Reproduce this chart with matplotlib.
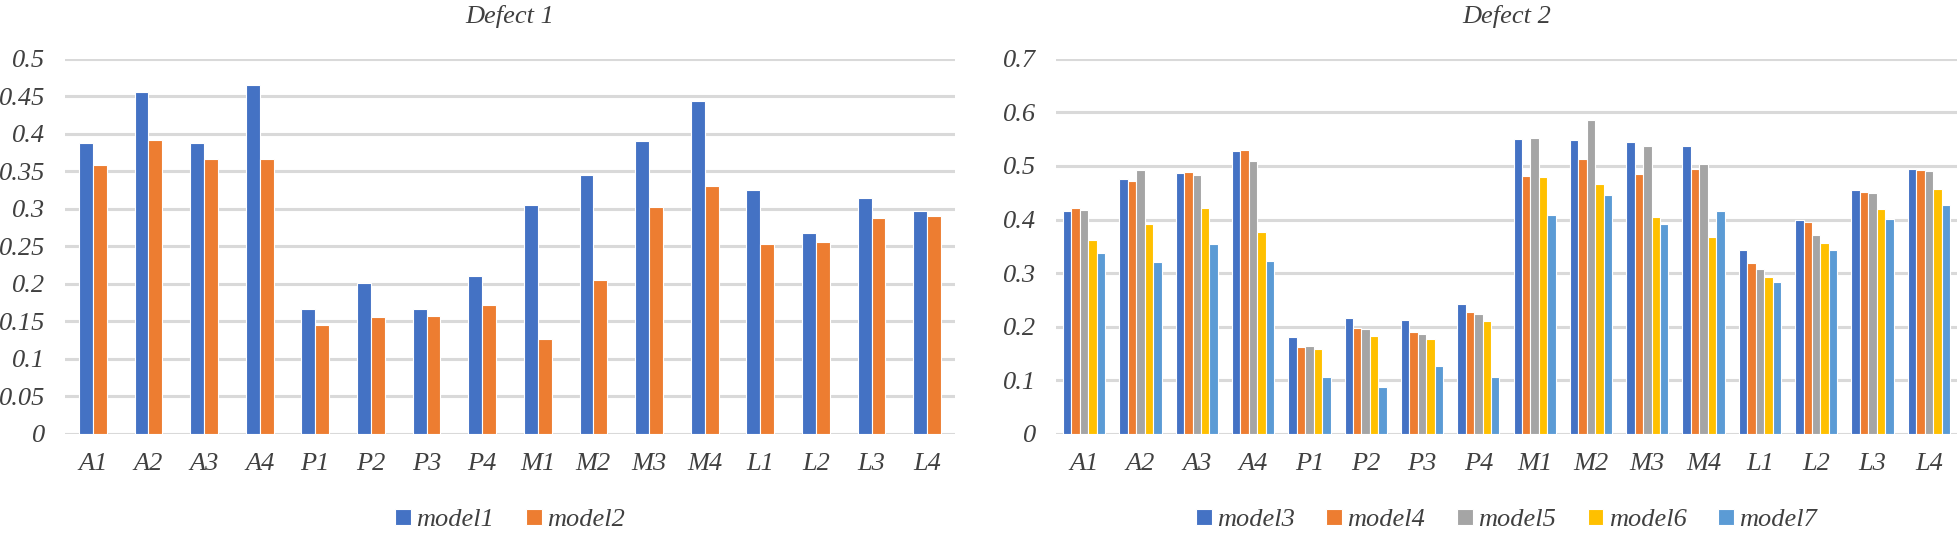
import matplotlib.pyplot as plt
import numpy as np

# categories shared by both panels
cats = ['A1', 'A2', 'A3', 'A4', 'P1', 'P2', 'P3', 'P4',
        'M1', 'M2', 'M3', 'M4', 'L1', 'L2', 'L3', 'L4']

# Defect 1
model1 = [0.388, 0.455, 0.388, 0.465, 0.167, 0.201, 0.167, 0.211,
          0.305, 0.345, 0.391, 0.443, 0.325, 0.268, 0.314, 0.297]
model2 = [0.358, 0.392, 0.366, 0.366, 0.145, 0.156, 0.157, 0.172,
          0.126, 0.205, 0.302, 0.331, 0.253, 0.256, 0.288, 0.290]

# Defect 2
model3 = [0.416, 0.475, 0.487, 0.528, 0.181, 0.217, 0.212, 0.243,
          0.551, 0.548, 0.544, 0.538, 0.344, 0.400, 0.455, 0.495]
model4 = [0.421, 0.471, 0.488, 0.530, 0.163, 0.197, 0.190, 0.227,
          0.482, 0.513, 0.485, 0.494, 0.319, 0.396, 0.452, 0.493]
model5 = [0.418, 0.492, 0.484, 0.510, 0.165, 0.196, 0.186, 0.224,
          0.552, 0.585, 0.537, 0.503, 0.307, 0.372, 0.450, 0.490]
model6 = [0.361, 0.391, 0.422, 0.377, 0.158, 0.182, 0.177, 0.211,
          0.479, 0.466, 0.405, 0.367, 0.292, 0.356, 0.420, 0.457]
model7 = [0.337, 0.320, 0.355, 0.322, 0.107, 0.088, 0.127, 0.106,
          0.408, 0.446, 0.392, 0.416, 0.284, 0.344, 0.401, 0.428]

colors = ['#4472C4', '#ED7D31', '#A5A5A5', '#FFC000', '#5B9BD5']

plt.rcParams['font.family'] = 'Liberation Serif'
plt.rcParams['font.style'] = 'italic'
FS = 19

fig = plt.figure(figsize=(19.58, 5.46), dpi=100)
W, H = 1958, 546
ax1 = fig.add_axes([65 / W, 1 - 434 / H, 890 / W, (434 - 58.7) / H])
ax2 = fig.add_axes([1056 / W, 1 - 434 / H, 901 / W, (434 - 58.7) / H])


def style(ax, ymax, step, fmt):
    for s in ax.spines.values():
        s.set_visible(False)
    ax.set_ylim(0, ymax)
    ax.set_xlim(-0.5, len(cats) - 0.5)
    ticks = np.arange(0, ymax + 1e-9, step)
    ax.set_yticks(ticks)
    ax.set_yticklabels([fmt(t) for t in ticks])
    ax.set_xticks(range(len(cats)))
    ax.set_xticklabels(cats)
    ax.tick_params(length=0, labelsize=FS, colors='#404040')
    ax.tick_params(axis='x', pad=14)
    ax.tick_params(axis='y', pad=14)
    ax.grid(axis='y', color='#D9D9D9', linewidth=2.2)
    ax.set_axisbelow(True)


def lab(t):
    s = ('%.2f' % t).rstrip('0').rstrip('.')
    return s if s else '0'


x = np.arange(len(cats))
leg_y = -(520 - 434) / (434 - 58.7)

# left panel
w = 0.25
for i, (vals, name) in enumerate([(model1, 'model1'), (model2, 'model2')]):
    ax1.bar(x + (i - 0.5) * w, vals, w, color=colors[i], edgecolor='white',
            linewidth=0.8, label=name)
style(ax1, 0.5, 0.05, lab)
ax1.set_title('Defect 1', fontsize=FS, color='#404040', pad=26)
ax1.legend(loc='center', bbox_to_anchor=(0.5, leg_y), ncol=2,
           frameon=False, fontsize=FS, handlelength=0.6, handleheight=0.6,
           handletextpad=0.2, columnspacing=1.2, labelcolor='#404040',
           borderpad=0)

# right panel
series2 = [model3, model4, model5, model6, model7]
w = 0.15
for i, vals in enumerate(series2):
    ax2.bar(x + (i - 2) * w, vals, w, color=colors[i], edgecolor='white',
            linewidth=0.8, label='model%d' % (i + 3))
style(ax2, 0.7, 0.1, lab)
ax2.set_title('Defect 2', fontsize=FS, color='#404040', pad=26)
ax2.legend(loc='center', bbox_to_anchor=(0.5, leg_y), ncol=5,
           frameon=False, fontsize=FS, handlelength=0.6, handleheight=0.6,
           handletextpad=0.2, columnspacing=1.2, labelcolor='#404040',
           borderpad=0)

fig.savefig('out.png', dpi=100)
